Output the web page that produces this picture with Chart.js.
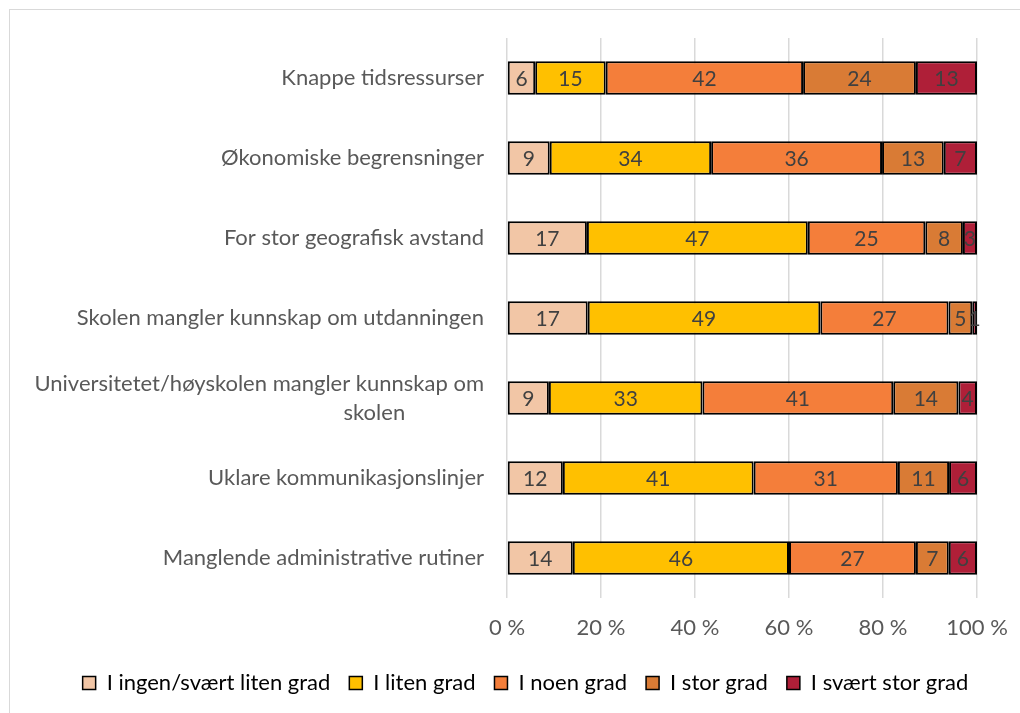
<!DOCTYPE html>
<html>
<head>
<meta charset="utf-8">
<script src="https://cdn.jsdelivr.net/npm/chart.js@4.4.0/dist/chart.umd.min.js"></script>
<style>
  html, body { margin: 0; padding: 0; background: #fff; }
  #wrap { position: relative; width: 1020px; height: 713px; overflow: hidden; }
  #ramme { position: absolute; left: 9px; top: 9px; width: 1040px; height: 740px; border: 1px solid #d9d9d9; box-sizing: border-box; }
  canvas { position: absolute; left: 0; top: 0; }
</style>
</head>
<body>
<div id="wrap">
  <div id="ramme"></div>
  <canvas id="myChart" width="1020" height="713"></canvas>
</div>
<script>
// Kategorier (y-aksen)
const kategorier = [
    "Knappe tidsressurser",
    "Økonomiske begrensninger",
    "For stor geografisk avstand",
    "Skolen mangler kunnskap om utdanningen",
    ["Universitetet/høyskolen mangler kunnskap om", "skolen              "],
    "Uklare kommunikasjonslinjer",
    "Manglende administrative rutiner"
];

// Serier
const serieNavn = ["I ingen/svært liten grad", "I liten grad", "I noen grad", "I stor grad", "I svært stor grad"];
const ingenGrad    = [6, 9, 17, 17, 9, 12, 14];
const litenGrad    = [15, 34, 47, 49, 33, 41, 46];
const noenGrad     = [42, 36, 25, 27, 41, 31, 27];
const storGrad     = [24, 13, 8, 5, 14, 11, 7];
const sværtStorGrad = [13, 7, 3, 1, 4, 6, 6];

const farger = ["#F2C6A6", "#FFC000", "#F47E3A", "#D97B35", "#AF1F38"];
const xTicks = [0, 20, 40, 60, 80, 100];

const serier = [ingenGrad, litenGrad, noenGrad, storGrad, sværtStorGrad];
// 100 % stablet: hver rad normaliseres mot sin egen sum
const radSum = kategorier.map((k, i) => serier.reduce((s, serie) => s + serie[i], 0));

const fontFamilie = "Lato, 'Open Sans', sans-serif";

const verdiEtiketter = {
    id: "verdiEtiketter",
    afterDatasetsDraw(chart) {
        const ctx = chart.ctx;
        ctx.save();
        ctx.font = "21px " + fontFamilie;
        ctx.fillStyle = "#404040";
        ctx.textAlign = "center";
        ctx.textBaseline = "middle";
        chart.data.datasets.forEach((ds, d) => {
            const meta = chart.getDatasetMeta(d);
            meta.data.forEach((bar, i) => {
                const x = (bar.x + bar.base) / 2;
                ctx.fillText(String(ds.raw[i]), x, bar.y + 1);
            });
        });
        ctx.restore();
    }
};

// flytter forklaringen litt mot høyre, som i originalen
const flyttForklaring = {
    id: "flyttForklaring",
    afterLayout(chart) {
        chart.legend.left += 37;
        chart.legend.right += 37;
    }
};

const ctx = document.getElementById("myChart").getContext("2d");

new Chart(ctx, {
    type: "bar",
    data: {
        labels: kategorier,
        datasets: serier.map((serie, s) => ({
            label: serieNavn[s],
            raw: serie,
            data: serie.map((v, i) => v / radSum[i] * 100),
            backgroundColor: farger[s],
            borderColor: "#000000",
            borderWidth: 2,
            borderSkipped: false,
            barPercentage: 0.42,
            categoryPercentage: 1
        }))
    },
    options: {
        indexAxis: "y",
        responsive: false,
        animation: false,
        layout: { padding: { left: 0, right: 43, top: 38, bottom: 12 } },
        scales: {
            x: {
                stacked: true,
                min: 0,
                max: 100,
                afterBuildTicks: scale => { scale.ticks = xTicks.map(v => ({ value: v })); },
                afterFit: scale => {
                    scale.height = 55;
                    scale.paddingLeft = 0;
                    scale.paddingRight = 0;
                },
                ticks: {
                    padding: 17,
                    color: "#595959",
                    font: { family: fontFamilie, size: 22 },
                    callback: v => v + " %"
                },
                grid: { color: "#d9d9d9", lineWidth: 1.5, drawTicks: false },
                border: { display: false }
            },
            y: {
                stacked: true,
                afterFit: scale => { scale.width = 507; },
                ticks: {
                    padding: 23,
                    color: "#595959",
                    font: { family: fontFamilie, size: 22, lineHeight: 1.32 }
                },
                grid: { display: false, drawTicks: false },
                border: { display: false }
            }
        },
        plugins: {
            legend: {
                position: "bottom",
                maxHeight: 48,
                labels: {
                    boxWidth: 13,
                    boxHeight: 13,
                    padding: 19,
                    color: "#595959",
                    font: { family: fontFamilie, size: 22 },
                    generateLabels: chart => chart.data.datasets.map((ds, i) => ({
                        text: ds.label,
                        fillStyle: ds.backgroundColor,
                        strokeStyle: "#000000",
                        lineWidth: 1.5,
                        datasetIndex: i
                    }))
                }
            },
            tooltip: { enabled: false }
        }
    },
    plugins: [verdiEtiketter, flyttForklaring]
});
</script>
</body>
</html>
